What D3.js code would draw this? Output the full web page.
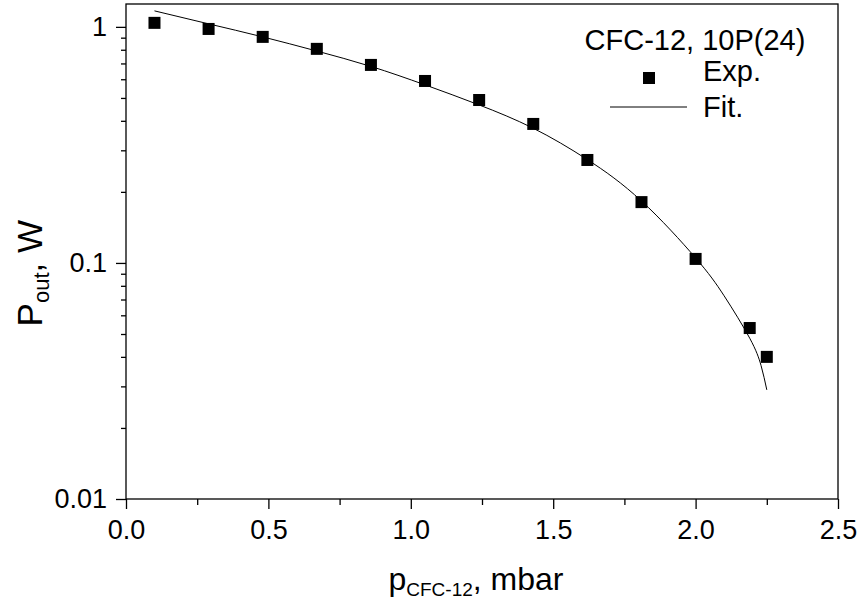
<!DOCTYPE html>
<html>
<head>
  <style>
    body {
      margin: 0;
      background: #fff;
      font-family: "Liberation Sans", Arial, sans-serif;
    }
    .axis text {
      font-family: "Liberation Sans", Arial, sans-serif;
      font-size: 27px;
      fill: #000;
    }
    .axis .domain {
      display: none;
    }
    .axis line {
      stroke: #000;
      stroke-width: 1.3;
    }
  </style>
</head>
<body>
  <script src="https://d3js.org/d3.v7.min.js"></script>
  <script>
    // experimental points
    var expP = [0.10, 0.29, 0.48, 0.67, 0.86, 1.05, 1.24, 1.43, 1.62, 1.81, 2.00, 2.19, 2.25];
    var expPower = [1.04, 0.98, 0.907, 0.807, 0.69, 0.59, 0.49, 0.388, 0.273, 0.181, 0.104, 0.053, 0.040];

    // fit curve
    var fitP = [0.10, 0.29, 0.48, 0.67, 0.86, 1.05, 1.24, 1.43, 1.62, 1.81, 2.00, 2.10, 2.19, 2.23, 2.25];
    var fitPower = [1.169, 1.03, 0.907, 0.79, 0.68, 0.568, 0.467, 0.372, 0.274, 0.183, 0.105, 0.0726, 0.048, 0.0367, 0.029];

    var xTicks = [0, 0.5, 1.0, 1.5, 2.0, 2.5];
    var xMinor = [0.25, 0.75, 1.25, 1.75, 2.25];
    var yTicks = [0.01, 0.1, 1];
    var yTickLabels = ["0.01", "0.1", "1"];
    var yMinor = [0.02, 0.03, 0.04, 0.05, 0.06, 0.07, 0.08, 0.09, 0.2, 0.3, 0.4, 0.5, 0.6, 0.7, 0.8, 0.9];

    var W = 858, H = 600;
    var mLeft = 126, mRight = 838, mTop = 4, mBottom = 499;

    var svg = d3.select("body").append("svg")
        .attr("width", W)
        .attr("height", H);

    var x = d3.scaleLinear().domain([0, 2.5]).range([mLeft, mRight]);
    var y = d3.scaleLog().domain([0.01, 1.25]).range([mBottom, mTop]);

    // x axis
    svg.append("g")
        .attr("class", "x axis")
        .attr("transform", "translate(0," + mBottom + ")")
        .call(d3.axisBottom(x).tickValues(xTicks).tickSize(10).tickPadding(11)
          .tickFormat(d3.format(".1f")));

    svg.append("g")
        .attr("class", "x axis minor")
        .attr("transform", "translate(0," + mBottom + ")")
        .call(d3.axisBottom(x).tickValues(xMinor).tickSize(6).tickFormat(""));

    // y axis
    svg.append("g")
        .attr("class", "y axis")
        .attr("transform", "translate(" + mLeft + ",0)")
        .call(d3.axisLeft(y).tickValues(yTicks).tickSize(10).tickPadding(9)
          .tickFormat(function(d, i){ return yTickLabels[i]; }));

    svg.append("g")
        .attr("class", "y axis minor")
        .attr("transform", "translate(" + mLeft + ",0)")
        .call(d3.axisLeft(y).tickValues(yMinor).tickSize(5).tickFormat(""));

    // frame
    svg.append("rect")
        .attr("x", mLeft)
        .attr("y", mTop)
        .attr("width", mRight - mLeft)
        .attr("height", mBottom - mTop)
        .attr("fill", "none")
        .attr("stroke", "#000")
        .attr("stroke-width", 1.3);

    // fit line
    var line = d3.line()
        .x(function(d, i){ return x(fitP[i]); })
        .y(function(d){ return y(d); })
        .curve(d3.curveNatural);

    svg.append("path")
        .datum(fitPower)
        .attr("d", line)
        .attr("fill", "none")
        .attr("stroke", "#000")
        .attr("stroke-width", 1);

    // points
    var sq = 12;
    svg.selectAll(".pt")
        .data(expPower)
      .enter().append("rect")
        .attr("class", "pt")
        .attr("x", function(d, i){ return x(expP[i]) - sq / 2; })
        .attr("y", function(d){ return y(d) - sq / 2; })
        .attr("width", sq)
        .attr("height", sq)
        .attr("fill", "#000");

    // legend
    var lg = svg.append("g").style("font-size", "29px");
    lg.append("text").attr("x", 695).attr("y", 50).attr("text-anchor", "middle").text("CFC-12, 10P(24)");
    lg.append("rect").attr("x", 643).attr("y", 72).attr("width", sq).attr("height", sq).attr("fill", "#000");
    lg.append("text").attr("x", 703).attr("y", 81).text("Exp.");
    lg.append("line").attr("x1", 610).attr("x2", 687).attr("y1", 107).attr("y2", 107)
        .attr("stroke", "#000").attr("stroke-width", 1);
    lg.append("text").attr("x", 703).attr("y", 117).text("Fit.");

    // axis titles
    var xt = svg.append("text")
        .attr("x", 476)
        .attr("y", 590)
        .attr("text-anchor", "middle")
        .style("font-size", "32px");
    xt.append("tspan").text("p");
    xt.append("tspan").attr("dy", 6).style("font-size", "19px").text("CFC-12");
    xt.append("tspan").attr("dy", -6).text(", mbar");

    var yt = svg.append("text")
        .attr("transform", "translate(42,220) rotate(-90)")
        .attr("text-anchor", "end")
        .style("font-size", "35px");
    yt.append("tspan").text("P");
    yt.append("tspan").attr("dy", 7).style("font-size", "22px").text("out");
    yt.append("tspan").attr("dy", -7).text(", W");
  </script>
</body>
</html>
